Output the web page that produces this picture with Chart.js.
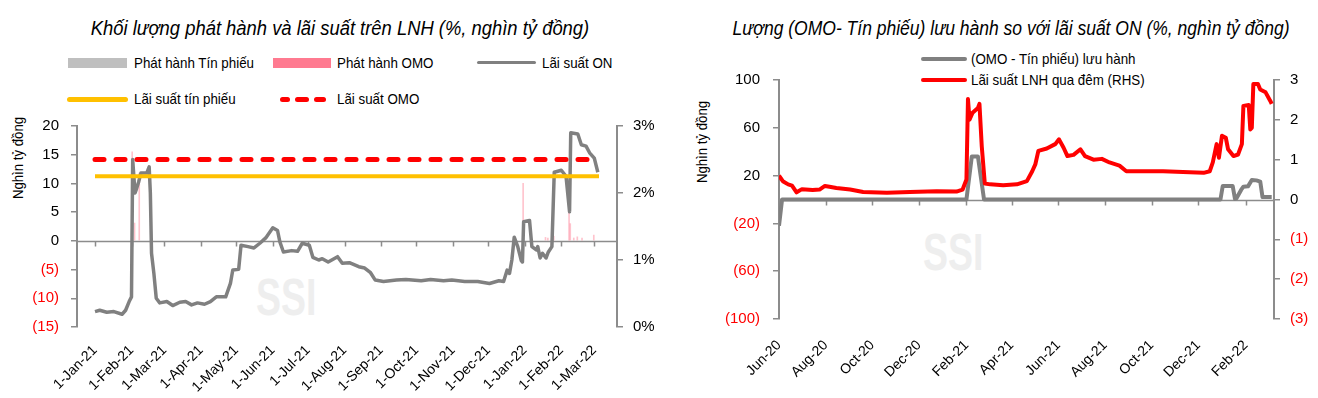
<!DOCTYPE html>
<html>
<head>
<meta charset="utf-8">
<script src="https://cdn.jsdelivr.net/npm/chart.js@4.4.1/dist/chart.umd.min.js"></script>
<style>
  html, body { margin: 0; padding: 0; background: #fff; }
  body { width: 1318px; height: 398px; position: relative; overflow: hidden;
         font-family: 'Liberation Sans Narrow', 'Arial Narrow', 'Liberation Sans', sans-serif; color: #000; }
  canvas { position: absolute; top: 0; z-index: 1; }
  .title { position: absolute; top: 16px; white-space: nowrap;
           font-style: italic; font-size: 20px; line-height: 24px; }
  .lg { position: absolute; font-size: 15px; line-height: 20px; white-space: nowrap;
        transform: scaleX(0.89); transform-origin: 0 50%; }
  .sw { position: absolute; }
  .ytitle { position: absolute; transform: translate(-50%, -50%) rotate(-90deg) scaleX(0.88); white-space: nowrap;
            font-size: 15px; line-height: 18px; }
  .mark { position: absolute; font-weight: bold; color: #eeeeee; font-size: 52px; line-height: 52px; z-index: 0;
          transform: scaleX(0.72); transform-origin: 0 0; }
</style>
</head>
<body>
<div class="mark" style="left:256px; top:271px;">SSI</div>
<div class="mark" style="left:923px; top:226px;">SSI</div>

<canvas id="leftChart" width="660" height="398" style="left:0"></canvas>
<canvas id="rightChart" width="658" height="398" style="left:660px"></canvas>

<div class="title" style="left:340px; transform: translateX(-50%) scaleX(0.92)">Khối lượng phát hành và lãi suất trên LNH (%, nghìn tỷ đồng)</div>
<div class="title" style="left:1011px; transform: translateX(-50%) scaleX(0.875)">Lượng (OMO- Tín phiếu) lưu hành so với lãi suất ON (%, nghìn tỷ đồng)</div>

<!-- left legend -->
<div class="sw" style="left:68px; top:58px; width:59px; height:10px; background:#bfbfbf"></div>
<div class="lg" style="left:134px; top:53px">Phát hành Tín phiếu</div>
<div class="sw" style="left:273px; top:58px; width:58px; height:10px; background:#ff7a90"></div>
<div class="lg" style="left:337px; top:53px">Phát hành OMO</div>
<div class="sw" style="left:477px; top:61px; width:59px; height:3px; background:#808080; border-radius:2px"></div>
<div class="lg" style="left:542px; top:53px">Lãi suất ON</div>
<div class="sw" style="left:67px; top:97px; width:61px; height:5px; background:#ffc000; border-radius:3px"></div>
<div class="lg" style="left:134px; top:89px">Lãi suất tín phiếu</div>
<div class="sw" style="left:280px; top:97px; width:10px; height:5px; background:#ff0000; border-radius:3px"></div>
<div class="sw" style="left:295px; top:97px; width:14px; height:5px; background:#ff0000; border-radius:3px"></div>
<div class="sw" style="left:314px; top:97px; width:12px; height:5px; background:#ff0000; border-radius:3px"></div>
<div class="lg" style="left:337px; top:89px">Lãi suất OMO</div>

<!-- right legend -->
<div class="sw" style="left:921px; top:57px; width:46px; height:4px; background:#808080; border-radius:2px"></div>
<div class="lg" style="left:971px; top:49px">(OMO - Tín phiếu) lưu hành</div>
<div class="sw" style="left:921px; top:78px; width:46px; height:4px; background:#ff0000; border-radius:2px"></div>
<div class="lg" style="left:971px; top:70px">Lãi suất LNH qua đêm (RHS)</div>

<div class="ytitle" style="left:18px; top:158px">Nghìn tỷ đồng</div>
<div class="ytitle" style="left:702px; top:142px">Nghìn tỷ đồng</div>

<script>
// ---- left chart: issuance and interbank rates ----
const leftStart = '2021-01-01';
const leftEnd = '2022-03-05';
const leftTickLabels = ['1-Jan-21', '1-Feb-21', '1-Mar-21', '1-Apr-21', '1-May-21', '1-Jun-21', '1-Jul-21',
  '1-Aug-21', '1-Sep-21', '1-Oct-21', '1-Nov-21', '1-Dec-21', '1-Jan-22', '1-Feb-22', '1-Mar-22'];

const onDates = ['2021-01-01', '2021-01-05', '2021-01-11', '2021-01-17', '2021-01-24', '2021-01-27', '2021-01-30',
  '2021-02-01', '2021-02-02', '2021-02-04', '2021-02-05', '2021-02-07', '2021-02-09', '2021-02-14', '2021-02-16',
  '2021-02-17', '2021-02-18', '2021-02-20', '2021-02-22', '2021-02-25', '2021-03-03', '2021-03-08', '2021-03-14',
  '2021-03-19', '2021-03-24', '2021-03-29', '2021-04-04', '2021-04-09', '2021-04-14', '2021-04-22', '2021-04-26',
  '2021-04-28', '2021-05-03', '2021-05-05', '2021-05-11', '2021-05-16', '2021-05-21', '2021-05-26', '2021-06-01',
  '2021-06-05', '2021-06-07', '2021-06-10', '2021-06-17', '2021-06-22', '2021-06-26', '2021-07-02', '2021-07-05',
  '2021-07-10', '2021-07-13', '2021-07-18', '2021-07-26', '2021-07-30', '2021-08-05', '2021-08-13', '2021-08-18',
  '2021-08-23', '2021-08-27', '2021-09-03', '2021-09-14', '2021-09-22', '2021-10-05', '2021-10-13', '2021-10-24',
  '2021-10-31', '2021-11-11', '2021-11-22', '2021-12-02', '2021-12-10', '2021-12-14', '2021-12-17', '2021-12-19',
  '2021-12-21', '2021-12-23', '2021-12-26', '2021-12-29', '2021-12-30', '2021-12-31', '2022-01-05', '2022-01-07',
  '2022-01-11', '2022-01-12', '2022-01-14', '2022-01-16', '2022-01-19', '2022-01-21', '2022-01-24', '2022-01-26',
  '2022-02-01', '2022-02-05', '2022-02-08', '2022-02-09', '2022-02-15', '2022-02-18', '2022-02-22', '2022-02-25',
  '2022-03-01', '2022-03-04'];
const onRate = [0.23, 0.25, 0.22, 0.23, 0.19, 0.25, 0.38,
  0.45, 2.5, 2.0, 2.05, 2.16, 2.3, 2.3, 2.39,
  2.0, 1.1, 0.8, 0.43, 0.36, 0.38, 0.32, 0.37,
  0.38, 0.33, 0.36, 0.34, 0.38, 0.45, 0.45, 0.65,
  0.85, 0.86, 1.22, 1.2, 1.18, 1.25, 1.33, 1.48,
  1.44, 1.27, 1.12, 1.14, 1.13, 1.25, 1.22, 1.04,
  1.0, 1.02, 0.97, 1.05, 0.95, 0.96, 0.9, 0.88,
  0.81, 0.7, 0.68, 0.7, 0.71, 0.69, 0.71, 0.69,
  0.7, 0.68, 0.68, 0.65, 0.69, 0.68, 0.85, 0.8,
  1.0, 1.34, 1.2, 0.99, 0.97, 1.57, 1.59, 1.2,
  1.15, 1.2, 1.03, 1.1, 1.03, 1.12, 1.2, 2.31,
  2.34, 2.25, 1.72, 2.9, 2.88, 2.72, 2.7, 2.6,
  2.52, 2.31];

const omoIssueDates = ['2021-02-02', '2021-02-04', '2021-02-08', '2021-12-31', '2022-01-19', '2022-01-21',
  '2022-01-26', '2022-02-08', '2022-02-09', '2022-02-12', '2022-02-15', '2022-02-19', '2022-03-01'];
const omoIssue = [15.5, 3.1, 11.8, 10, 0.6, 0.5, 0.8, 8.0, 3.0, 0.5, 0.7, 0.5, 1.0];
const billIssueDates = [];
const billIssue = [];

const rateDates = [leftStart, leftEnd];
const billRate = [2.25, 2.25];
const omoRate = [2.5, 2.5];

// ---- right chart: net OMO - bills outstanding vs overnight rate ----
const rightStart = '2020-06-01';
const rightEnd = '2022-03-10';
const rightTickLabels = ['Jun-20', 'Aug-20', 'Oct-20', 'Dec-20', 'Feb-21', 'Apr-21', 'Jun-21', 'Aug-21',
  'Oct-21', 'Dec-21', 'Feb-22'];

const netDates = ['2020-06-01', '2020-06-05', '2021-02-01', '2021-02-08', '2021-02-16', '2021-02-24',
  '2021-12-30', '2022-01-02', '2022-01-15', '2022-01-18', '2022-01-20', '2022-01-26', '2022-01-29',
  '2022-02-04', '2022-02-09', '2022-02-15', '2022-02-20', '2022-02-23', '2022-03-07'];
const netOutstanding = [-22, 0, 0, 36, 36, 0,
  0, 11.3, 11.3, 0.5, 1, 8, 10.7,
  11, 16.3, 16, 15, 2, 2];

const lnhDates = ['2020-06-01', '2020-06-06', '2020-06-13', '2020-06-18', '2020-06-24', '2020-07-01', '2020-07-15',
  '2020-07-24', '2020-07-31', '2020-08-06', '2020-08-15', '2020-09-02', '2020-09-19', '2020-10-20', '2020-11-19',
  '2020-12-24', '2021-01-19', '2021-01-27', '2021-02-01', '2021-02-03', '2021-02-05', '2021-02-09', '2021-02-16',
  '2021-02-18', '2021-02-21', '2021-02-25', '2021-03-04', '2021-03-21', '2021-04-08', '2021-04-21', '2021-04-28',
  '2021-05-02', '2021-05-06', '2021-05-17', '2021-05-28', '2021-06-02', '2021-06-08', '2021-06-13', '2021-06-21',
  '2021-06-30', '2021-07-06', '2021-07-17', '2021-07-28', '2021-08-07', '2021-08-20', '2021-08-29', '2021-09-20',
  '2021-10-16', '2021-11-11', '2021-12-08', '2021-12-16', '2021-12-20', '2021-12-25', '2021-12-28', '2022-01-01',
  '2022-01-06', '2022-01-09', '2022-01-16', '2022-01-22', '2022-01-27', '2022-01-29', '2022-02-05', '2022-02-07',
  '2022-02-09', '2022-02-11', '2022-02-17', '2022-02-20', '2022-02-27', '2022-03-05', '2022-03-07'];
const lnhRate = [0.6, 0.46, 0.38, 0.35, 0.18, 0.26, 0.24,
  0.25, 0.34, 0.32, 0.29, 0.25, 0.19, 0.17, 0.19,
  0.21, 0.2, 0.25, 0.5, 2.52, 2.0, 2.18, 2.3,
  2.4, 1.34, 0.4, 0.38, 0.36, 0.38, 0.46, 0.71,
  0.88, 1.22, 1.28, 1.39, 1.51, 1.3, 1.09, 1.12,
  1.26, 1.09, 1.0, 1.02, 0.93, 0.85, 0.71, 0.71,
  0.71, 0.69, 0.67, 0.71, 0.93, 1.39, 1.05, 1.6,
  1.55, 1.26, 1.09, 1.13, 1.39, 2.35, 2.37, 1.76,
  1.8, 2.9, 2.9, 2.76, 2.69, 2.48, 2.4];

// ---- helpers ----
const FONT = "'Liberation Sans Narrow', 'Arial Narrow', 'Liberation Sans', sans-serif";
const GRAY = '#808080';
const RED = '#ff0000';
const AXIS = '#8c8c8c';
const DAY = 864e5;
const MONTHS = ['Jan', 'Feb', 'Mar', 'Apr', 'May', 'Jun', 'Jul', 'Aug', 'Sep', 'Oct', 'Nov', 'Dec'];

function utc(s) {
  const [y, m, d] = s.split('-').map(Number);
  return Date.UTC(y, m - 1, d);
}
function dayOf(s, start) { return (utc(s) - utc(start)) / DAY; }
function tickDay(label, start) {
  const p = label.split('-');
  const d = p.length === 3 ? +p[0] : 1;
  const mon = MONTHS.indexOf(p[p.length - 2]);
  const yr = 2000 + +p[p.length - 1];
  return (Date.UTC(yr, mon, d) - utc(start)) / DAY;
}
function points(dates, values, start) {
  return dates.map((d, i) => ({ x: dayOf(d, start), y: values[i] }));
}
const paren = v => (v < 0 ? '(' + (-v) + ')' : '' + v);
const redIfNeg = c => (c.tick && c.tick.value < 0 ? RED : '#000');

// zero line with month tick marks (the category axis crosses at 0)
const zeroAxis = {
  id: 'zeroAxis',
  beforeDatasetsDraw(chart) {
    const { ctx, chartArea, scales } = chart;
    const y0 = Math.round(scales.y.getPixelForValue(0)) + 0.5;
    ctx.save();
    ctx.strokeStyle = AXIS;
    ctx.lineWidth = 1.5;
    ctx.beginPath();
    ctx.moveTo(chartArea.left, y0);
    ctx.lineTo(chartArea.right, y0);
    scales.x.ticks.forEach(t => {
      const x = Math.round(scales.x.getPixelForValue(t.value)) + 0.5;
      ctx.moveTo(x, y0);
      ctx.lineTo(x, y0 + 5);
    });
    ctx.stroke();
    ctx.restore();
  }
};

function xAxis(start, end, labels, height, pad) {
  const tickDays = labels.map(l => tickDay(l, start));
  return {
    type: 'linear',
    min: 0,
    max: dayOf(end, start),
    grid: { display: false, drawTicks: false },
    border: { display: false },
    afterBuildTicks: s => { s.ticks = tickDays.map(v => ({ value: v })); },
    afterFit: s => { s.height = height; },
    ticks: {
      autoSkip: false, minRotation: 45, maxRotation: 45, padding: pad, labelOffset: 0,
      color: '#000', font: { family: FONT, size: 14 },
      callback: (v, i) => labels[i]
    }
  };
}

function yAxis(pos, min, max, step, width, fmt, colorFn, pad) {
  return {
    position: pos,
    min: min, max: max,
    afterFit: s => { s.width = width; },
    grid: { drawOnChartArea: false, drawTicks: true, tickLength: 6, color: AXIS, lineWidth: 1.5 },
    border: { display: true, color: AXIS, width: 2 },
    ticks: { stepSize: step, padding: pad, color: colorFn, font: { family: FONT, size: 15 }, callback: fmt }
  };
}

const common = {
  responsive: false,
  animation: false,
  events: [],
  plugins: { legend: { display: false }, tooltip: { enabled: false } },
  elements: { point: { radius: 0 }, line: { tension: 0, borderJoinStyle: 'round', borderCapStyle: 'butt' } }
};

new Chart(document.getElementById('leftChart').getContext('2d'), {
  type: 'line',
  data: {
    datasets: [
      { type: 'bar', label: 'Phát hành Tín phiếu', data: points(billIssueDates, billIssue, leftStart),
        yAxisID: 'y', backgroundColor: '#bfbfbf', barThickness: 1, order: 5 },
      { type: 'bar', label: 'Phát hành OMO', data: points(omoIssueDates, omoIssue, leftStart),
        yAxisID: 'y', backgroundColor: 'rgba(255,122,144,0.45)', barThickness: 1, order: 4 },
      { label: 'Lãi suất ON', data: points(onDates, onRate, leftStart), yAxisID: 'y2',
        borderColor: GRAY, borderWidth: 3.5, order: 3 },
      { label: 'Lãi suất tín phiếu', data: points(rateDates, billRate, leftStart), yAxisID: 'y2',
        borderColor: '#ffc000', borderWidth: 4, order: 2 },
      { label: 'Lãi suất OMO', data: points(rateDates, omoRate, leftStart), yAxisID: 'y2',
        borderColor: RED, borderWidth: 5, borderDash: [9, 12], borderCapStyle: 'round', order: 1 }
    ]
  },
  options: Object.assign({}, common, {
    layout: { padding: { top: 126, left: 0, right: 0, bottom: 0 } },
    scales: {
      x: xAxis(leftStart, leftEnd, leftTickLabels, 71, 15),
      y: yAxis('left', -15, 20, 5, 77, paren, redIfNeg, 12),
      y2: yAxis('right', 0, 3, 1, 43, v => v + '%', '#000', 10)
    }
  }),
  plugins: [zeroAxis]
});

new Chart(document.getElementById('rightChart').getContext('2d'), {
  type: 'line',
  data: {
    datasets: [
      { label: '(OMO - Tín phiếu) lưu hành', data: points(netDates, netOutstanding, rightStart), yAxisID: 'y',
        borderColor: GRAY, borderWidth: 4, order: 2 },
      { label: 'Lãi suất LNH qua đêm (RHS)', data: points(lnhDates, lnhRate, rightStart), yAxisID: 'y2',
        borderColor: RED, borderWidth: 4, order: 1 }
    ]
  },
  options: Object.assign({}, common, {
    layout: { padding: { top: 80, left: 0, right: 0, bottom: 0 } },
    scales: {
      x: xAxis(rightStart, rightEnd, rightTickLabels, 79, 18),
      y: yAxis('left', -100, 100, 40, 119, paren, redIfNeg, 13),
      y2: yAxis('right', -3, 3, 1, 44, paren, redIfNeg, 10)
    }
  }),
  plugins: [zeroAxis]
});
</script>
</body>
</html>
